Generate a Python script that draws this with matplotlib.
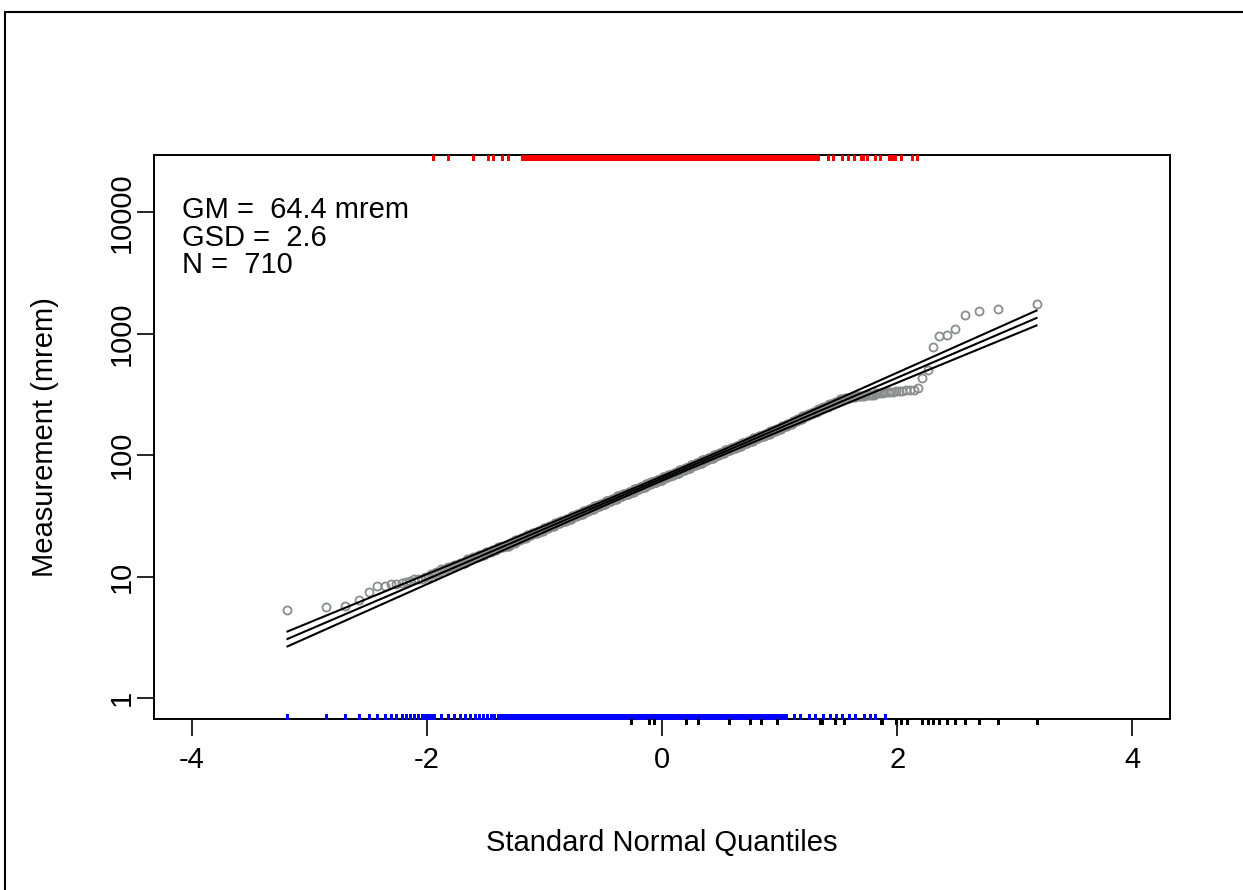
import numpy as np
import matplotlib
matplotlib.use("Agg")
import matplotlib.pyplot as plt
from matplotlib.patches import Rectangle
from matplotlib.ticker import NullLocator, FixedLocator, FixedFormatter
from statistics import NormalDist

plt.rcParams['font.family'] = ['Liberation Sans', 'DejaVu Sans']
plt.rcParams['axes.unicode_minus'] = False

# ---------------- data ----------------
GM = 64.4          # mrem
GSD = 2.6
N_LABEL = 710

# sorted measurements, lowest distinct points
low_tail_values = [5.3, 5.6, 5.75, 6.4, 7.5, 8.4, 8.4, 8.7, 8.7, 8.9, 9.0, 9.2]
# dense central part: value levels (mrem) and number of measurements at each
level_values = [9.5, 10.0, 10.5, 11.0, 11.5, 12.0, 12.5, 13, 14, 14.5, 15, 16, 16.5,
                17.5, 18, 19, 20, 21, 22, 23, 24, 25, 26, 27.5, 29, 30, 31.5, 33, 35,
                36, 38, 40, 42, 44, 46, 48, 50, 52.5, 55, 57.5, 60, 63, 66, 69, 72, 76,
                79, 83, 87, 91, 95, 100, 105, 110, 115, 120, 126, 132, 138, 145, 151,
                158, 166, 174, 182, 190, 200, 209, 219, 229, 240, 251, 263, 275]
level_counts = [3, 2, 2, 2, 3, 3, 3, 4, 4, 4, 5, 5, 5, 6, 6, 6, 6, 7, 7, 8, 8, 8, 9, 9,
                10, 10, 10, 11, 11, 11, 12, 12, 13, 12, 13, 13, 13, 13, 14, 13, 14, 14,
                13, 14, 13, 14, 13, 13, 13, 13, 13, 12, 12, 12, 11, 11, 11, 10, 10, 10,
                9, 9, 8, 8, 7, 6, 6, 6, 6, 5, 5, 5, 5, 4]
# plateau just below 360 mrem
plateau_values = [288, 295, 302, 309, 316, 324, 331, 339, 347]
plateau_counts = [4, 4, 4, 5, 5, 4, 4, 3, 3]
# highest distinct points
high_tail_values = [355, 435, 500, 785, 960, 970, 1100, 1440, 1530, 1615, 1775]

# rug marks (standard normal quantile positions)
red_rug_sparse = [-1.95, -1.82, -1.61, -1.48, -1.44, -1.36, -1.31, 1.41, 1.45, 1.53,
                  1.58, 1.63, 1.69, 1.71, 1.74, 1.81, 1.85, 1.93, 1.96, 1.98, 2.03,
                  2.13, 2.17]
red_rug_rank_range = (84, 645)
blue_rug_rank_range = (1, 607)
blue_rug_sparse = [1.12, 1.17, 1.25, 1.30, 1.37, 1.43, 1.48, 1.53, 1.59, 1.64, 1.72,
                   1.77, 1.81, 1.90]
black_rug_sparse = [-0.26, -0.11, -0.07, 0.20, 0.31, 0.57, 0.75, 0.84, 0.98, 1.34,
                    1.36, 1.47, 1.55, 1.86, 1.87, 1.99, 2.03, 2.08]
black_rug_rank_range = (701, 710)

x_ticks = [-4, -2, 0, 2, 4]
y_ticks = [1, 10, 100, 1000, 10000]
y_tick_labels = ['1', '10', '100', '1000', '10000']

# ---------------- build sample and quantiles ----------------
meas = np.concatenate([
    np.array(low_tail_values, float),
    np.repeat(level_values, level_counts).astype(float),
    np.repeat(plateau_values, plateau_counts).astype(float),
    np.array(high_tail_values, float),
])
meas = np.sort(meas)
n = len(meas)
nd = NormalDist()
pp = (np.arange(1, n + 1) - 0.5) / n
q = np.array([nd.inv_cdf(p) for p in pp])

# ---------------- figure ----------------
W, H = 1243, 890
fig = plt.figure(figsize=(W / 100, H / 100), dpi=100)
fig.patch.set_facecolor('white')
fig.patches.append(Rectangle((5 / W, -0.2), 1.5, (H - 12) / H + 0.2,
                             transform=fig.transFigure, fill=False,
                             edgecolor='black', linewidth=1.5))

ax = fig.add_axes([154 / W, 1 - 719 / H, (1170 - 154) / W, (719 - 155) / H])
ax.set_xlim(-4.32, 4.32)
ax.set_yscale('log')
ax.set_ylim(10 ** -0.172, 10 ** 4.473)

pt_color = '#898e8c'
ax.plot(q, meas, linestyle='none', marker='o', markerfacecolor='none',
        markeredgecolor=pt_color, markersize=5.8, markeredgewidth=1.3, zorder=2)

# fitted line with band
xl = np.linspace(q.min(), q.max(), 200)
centre = np.log10(GM) + np.log10(GSD) * xl
sxx = np.sum((q - q.mean()) ** 2)
hw = 0.49 * np.sqrt(1.0 / n + (xl - q.mean()) ** 2 / sxx)
for off in (-hw, 0 * hw, hw):
    ax.plot(xl, 10 ** (centre + off), color='black', linewidth=1.5, zorder=3,
            solid_capstyle='butt')

# rugs
tick_len = 5 / 564
red_pos = list(q[red_rug_rank_range[0] - 1:red_rug_rank_range[1]:3]) + red_rug_sparse
blue_pos = list(q[blue_rug_rank_range[0] - 1:18]) + \
    list(q[18:blue_rug_rank_range[1]:3]) + blue_rug_sparse
black_pos = list(q[black_rug_rank_range[0] - 1:black_rug_rank_range[1]]) + black_rug_sparse
trans = ax.get_xaxis_transform()
ax.vlines(red_pos, 1 - tick_len, 1, transform=trans, color='#ff0000',
          linewidth=0.75, zorder=4, clip_on=False, antialiased=False)
ax.vlines(blue_pos, 0, tick_len, transform=trans, color='#0000ff',
          linewidth=0.75, zorder=4, clip_on=False, antialiased=False)
ax.vlines(black_pos, -tick_len, 0, transform=trans, color='black',
          linewidth=0.75, zorder=4, clip_on=False, antialiased=False)

# axes styling
for sp in ax.spines.values():
    sp.set_linewidth(1.4)
ax.xaxis.set_major_locator(FixedLocator(x_ticks))
ax.set_xticklabels([str(v) for v in x_ticks])
ax.yaxis.set_major_locator(FixedLocator(y_ticks))
ax.yaxis.set_major_formatter(FixedFormatter(y_tick_labels))
ax.yaxis.set_minor_locator(NullLocator())
ax.tick_params(axis='both', direction='out', length=12.3, width=1.2,
               labelsize=21, colors='black')
ax.tick_params(axis='x', pad=7.5)
ax.tick_params(axis='y', pad=1)
for lab in ax.get_yticklabels():
    lab.set_rotation(90)
    lab.set_va('center')

ax.set_xlabel('Standard Normal Quantiles', fontsize=21)
ax.set_ylabel('Measurement (mrem)', fontsize=21)
ax.xaxis.set_label_coords(0.5, (719 - 829) / 564)
ax.yaxis.set_label_coords((59 - 154) / 1016, 0.5)

# annotation text
fig.text(181.5 / W, 1 - 218.3 / H, 'GM =  %.1f mrem' % GM, fontsize=21, va='baseline')
fig.text(181.5 / W, 1 - 246 / H, 'GSD =  %.1f' % GSD, fontsize=21, va='baseline')
fig.text(181.5 / W, 1 - 273.3 / H, 'N =  %d' % N_LABEL, fontsize=21, va='baseline')

fig.savefig('out.png', dpi=100)
